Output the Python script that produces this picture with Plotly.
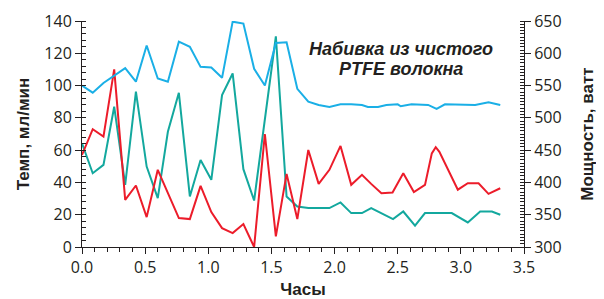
import plotly.graph_objects as go

# Time (hours) and values
hours_power = [0, 0.085, 0.17, 0.255, 0.342, 0.427, 0.512, 0.6, 0.68, 0.767, 0.854, 0.939, 1.024, 1.109,
               1.193, 1.278, 1.363, 1.448, 1.535, 1.62, 1.705, 1.792, 1.874, 1.959, 2.047, 2.132, 2.217,
               2.264, 2.344, 2.41, 2.5, 2.524, 2.609, 2.741, 2.808, 2.874, 3.113, 3.219, 3.312]
power_w = [550, 539, 554, 565, 577, 556, 612, 561, 556, 618, 610, 579, 578, 562,
           649, 646, 576, 550, 616, 617, 545, 525, 520, 517, 521, 521, 520,
           517, 517, 520, 521, 518, 521, 520, 514, 521, 520, 524, 520]

hours_red = [0, 0.085, 0.17, 0.255, 0.342, 0.427, 0.512, 0.6, 0.767, 0.854, 0.939, 1.024, 1.109, 1.193,
             1.278, 1.363, 1.448, 1.535, 1.62, 1.705, 1.792, 1.874, 1.959, 2.047, 2.132, 2.217, 2.29,
             2.371, 2.459, 2.544, 2.628, 2.716, 2.77, 2.801, 2.83, 2.862, 2.976, 3.055, 3.14, 3.219, 3.312]
rate_red = [57, 73, 68.4, 110, 29.2, 38.1, 18.5, 47.8, 17.9, 17.3, 37.9, 21.6, 11.7, 8.6,
            14.2, 0, 70, 6.6, 45.3, 17.3, 60.1, 39.1, 47.8, 62.6, 38.5, 44.7, 39.1,
            33.3, 33.7, 45.7, 34, 38.5, 58, 61.8, 59, 54, 35.5, 39.5, 39.5, 32.9, 36.4]

hours_teal = [0, 0.085, 0.17, 0.255, 0.342, 0.427, 0.512, 0.6, 0.68, 0.767, 0.854, 0.939, 1.024, 1.109,
              1.193, 1.278, 1.363, 1.535, 1.62, 1.705, 1.792, 1.874, 1.959, 2.047, 2.132, 2.217,
              2.29, 2.463, 2.544, 2.637, 2.716, 2.928, 3.055, 3.153, 3.246, 3.312]
rate_teal = [64.2, 45.7, 50.9, 86.9, 38.5, 96.2, 49.8, 30.3, 71.4, 95.5, 31.3, 53.9, 41.6, 94.1,
             107.5, 48.2, 28.8, 130.5, 31.3, 25.1, 24.1, 24.1, 24.1, 27.6, 21, 21,
             24.1, 17.3, 22, 13.2, 21, 21, 15.2, 22, 22, 20]

x_ticks = [0.0, 0.5, 1.0, 1.5, 2.0, 2.5, 3.0, 3.5]
x_tick_labels = ["0.0", "0.5", "1.0", "1.5", "2.0", "2.5", "3.0", "3.5"]

note_lines = ["Набивка из чистого", "PTFE волокна"]

INK = "#231f20"
TICKFONT = dict(family="Open Sans", size=16, color=INK)
TITLEFONT = dict(family="Liberation Sans", size=17, color=INK)

fig = go.Figure()
fig.add_trace(go.Scatter(x=hours_power, y=power_w, mode="lines", yaxis="y2",
                         line=dict(color="#1aafe6", width=2), showlegend=False))
fig.add_trace(go.Scatter(x=hours_teal, y=rate_teal, mode="lines",
                         line=dict(color="#13a89e", width=2), showlegend=False))
fig.add_trace(go.Scatter(x=hours_red, y=rate_red, mode="lines",
                         line=dict(color="#ec1c2a", width=2), showlegend=False))

fig.update_layout(
    width=596, height=291,
    margin=dict(l=74, r=80, t=13, b=52),
    paper_bgcolor="white", plot_bgcolor="white",
    xaxis=dict(range=[0, 3.5], tickvals=x_ticks, ticktext=x_tick_labels, automargin=False,
               showline=True, linecolor=INK, linewidth=1, showgrid=False, zeroline=False,
               ticks="outside", ticklen=6, tickcolor=INK, tickfont=TICKFONT,
               minor=dict(ticks="outside", dtick=0.1, ticklen=4, tickcolor=INK),
               title=dict(text="<b>Часы</b>", font=TITLEFONT, standoff=6)),
    yaxis=dict(range=[0, 140], dtick=20, showline=True, linecolor=INK, linewidth=1, automargin=False,
               showgrid=False, zeroline=False, ticks="outside", ticklen=6, tickcolor=INK,
               tickfont=TICKFONT,
               minor=dict(ticks="inside", dtick=4, ticklen=4, tickcolor=INK),
               title=dict(text="<b>Темп, мл/мин</b>", font=TITLEFONT, standoff=10)),
    yaxis2=dict(range=[300, 650], dtick=50, overlaying="y", side="right", automargin=False,
                showline=True, linecolor=INK, linewidth=1, showgrid=False, zeroline=False,
                ticks="outside", ticklen=6, tickcolor=INK, tickfont=TICKFONT,
                minor=dict(ticks="inside", dtick=5, ticklen=4, tickcolor=INK),
                title=dict(text="<b>Мощность, ватт</b>", font=TITLEFONT, standoff=20)),
    annotations=[
        dict(text="<b><i>%s</i></b>" % note_lines[0], xref="paper", yref="paper",
             x=0.722, y=0.876, xanchor="center", yanchor="middle", showarrow=False,
             font=dict(family="Liberation Sans", size=18, color=INK)),
        dict(text="<b><i>%s</i></b>" % note_lines[1], xref="paper", yref="paper",
             x=0.722, y=0.788, xanchor="center", yanchor="middle", showarrow=False,
             font=dict(family="Liberation Sans", size=18, color=INK)),
    ],
)

fig.write_html("out.html")
